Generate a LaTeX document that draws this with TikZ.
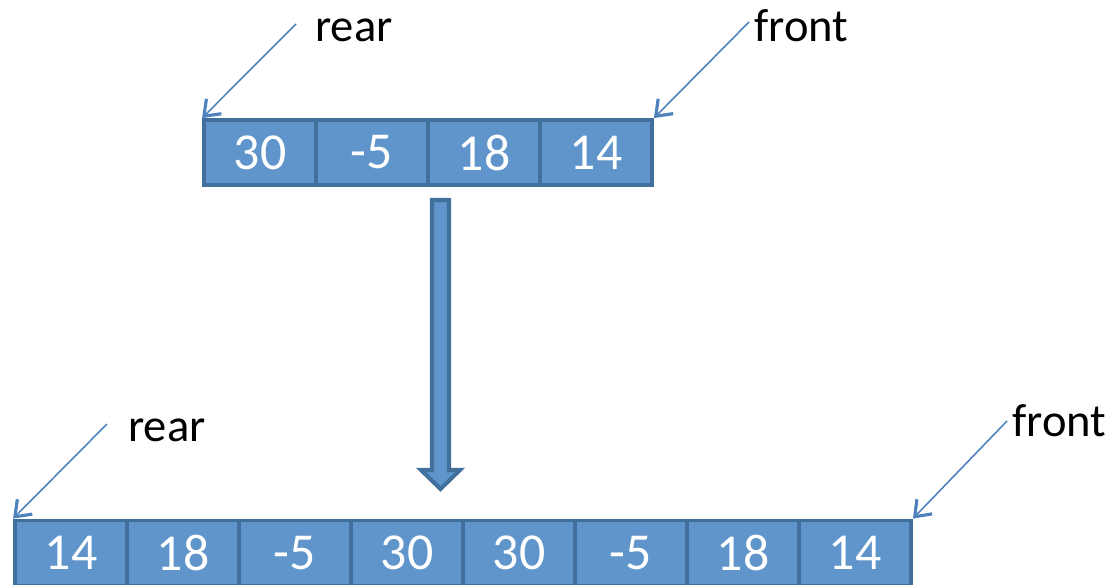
\documentclass[tikz,border=0pt]{standalone}
\usepackage{fontspec}
\setmainfont{Carlito}
\usetikzlibrary{arrows.meta}

\definecolor{cellfill}{RGB}{95,149,203}
\definecolor{celledge}{RGB}{66,112,157}
\definecolor{ptrblue}{RGB}{79,129,189}

\tikzset{
	cell/.style={draw=celledge, fill=cellfill, line width=2.2pt, minimum width=2.24cm,
		minimum height=1.3cm, inner sep=0pt, text=white, font=\fontsize{29.5pt}{34pt}\selectfont},
	tag/.style={anchor=base west, inner sep=0pt, font=\fontsize{26.5pt}{31pt}\selectfont},
	pointer/.style={draw=ptrblue, line width=0.9pt,
		-{Straight Barb[length=8pt, width=12pt, line width=1.8pt]}},
	bigarrow/.style={draw=celledge, fill=cellfill, line width=2.3pt, line join=miter}
}

\begin{document}
\begin{tikzpicture}[x=0.02cm, y=-0.02cm]
	\useasboundingbox (0,0) rectangle (1113,585);

	\foreach \v [count=\i] in {30,-5,18,14}
		\node[cell] (t\i) at ({260+112*(\i-1)},152.5) {\raisebox{-1.5pt}{\v}};
	\foreach \v [count=\i] in {14,18,-5,30,30,-5,18,14}
		\node[cell] (b\i) at ({71+112*(\i-1)},553) {\raisebox{-1.5pt}{\v}};

	\node[tag] (rearT) at (315,41.5) {rear};
	\node[tag] (frontT) at (754,41) {front};
	\node[tag] (rearB) at (128,441.5) {rear};
	\node[tag] (frontB) at (1012,436) {front};

	\coordinate (rearTtail) at (296,24);
	\coordinate (frontTtail) at (749,22);
	\coordinate (rearBtail) at (107,424);
	\coordinate (frontBtail) at (1007,421);

	\draw[pointer] (rearTtail) -- (t1.north west);
	\draw[pointer] (frontTtail) -- (t4.north east);
	\draw[pointer] (rearBtail) -- (b1.north west);
	\draw[pointer] (frontBtail) -- (b8.north east);

	\draw[bigarrow] (432,200) -- (449,200) -- (449,470) -- (460,470) -- (440.5,489)
		-- (421,470) -- (432,470) -- cycle;
\end{tikzpicture}
\end{document}
